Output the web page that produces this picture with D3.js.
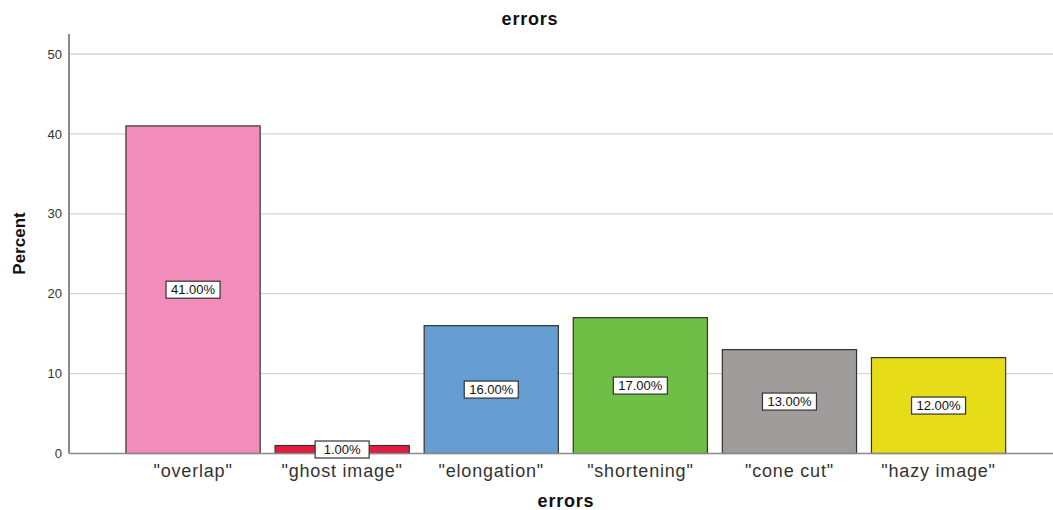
<!DOCTYPE html>
<html>
<head>
<meta charset="utf-8">
<script src="https://cdn.jsdelivr.net/npm/d3@7"></script>
<style>
  body { margin: 0; background: #fff; }
  svg { display: block; font-family: "Liberation Sans", Arial, sans-serif; }
</style>
</head>
<body>
<svg id="chart" width="1053" height="510"></svg>
<script>
// Error categories and their share of cases (percent)
const categories = ['"overlap"', '"ghost image"', '"elongation"', '"shortening"', '"cone cut"', '"hazy image"'];
const percents = [41, 1, 16, 17, 13, 12];
const barColors = ["#f28cba", "#e31b3e", "#659dd3", "#6fbe45", "#a09c9b", "#e6dc18"];
const yTicks = [0, 10, 20, 30, 40, 50];

const svg = d3.select("#chart");
const axisX = 69, plotRight = 1053, plotTop = 34, baseY = 453.5;
const fontFam = "Liberation Sans, Arial, sans-serif";

const x = d3.scaleBand()
  .domain(categories)
  .range([118.5, 1013.1])
  .paddingInner(0.1)
  .paddingOuter(0.05);

const y = d3.scaleLinear().domain([0, 50]).range([baseY, 54]);

// horizontal gridlines
svg.append("g").selectAll("line")
  .data(yTicks.filter(d => d > 0))
  .join("line")
  .attr("x1", axisX).attr("x2", plotRight)
  .attr("y1", d => y(d)).attr("y2", d => y(d))
  .attr("stroke", "#d6d6d6").attr("stroke-width", 1.3);

// bars
const data = categories.map((c, i) => ({ c, v: percents[i], color: barColors[i] }));
svg.append("g").selectAll("rect")
  .data(data)
  .join("rect")
  .attr("x", d => x(d.c))
  .attr("width", x.bandwidth())
  .attr("y", d => y(d.v))
  .attr("height", d => y(0) - y(d.v))
  .attr("fill", d => d.color)
  .attr("stroke", "#333")
  .attr("stroke-width", 1.2);

// y axis
const yAxis = d3.axisLeft(y).tickValues(yTicks).tickSize(0).tickPadding(7);
const gy = svg.append("g").attr("transform", `translate(${axisX},0)`).call(yAxis);
gy.select(".domain").remove();
gy.selectAll("text").attr("font-size", 13).attr("fill", "#333").attr("font-family", fontFam);
svg.append("line")
  .attr("x1", axisX).attr("x2", axisX).attr("y1", plotTop).attr("y2", baseY)
  .attr("stroke", "#8a8a8a").attr("stroke-width", 2);

// x axis baseline and category labels
svg.append("line")
  .attr("x1", axisX).attr("x2", plotRight).attr("y1", baseY).attr("y2", baseY)
  .attr("stroke", "#8a8a8a").attr("stroke-width", 1.6);
const xAxis = d3.axisBottom(x).tickSize(0).tickPadding(11);
const gx = svg.append("g").attr("transform", `translate(0,${baseY})`).call(xAxis);
gx.select(".domain").remove();
gx.selectAll("text").attr("font-size", 18).attr("fill", "#333")
  .attr("letter-spacing", 0.8).attr("font-family", fontFam);

// value labels in boxes at bar mid-height
const lab = svg.append("g").selectAll("g")
  .data(data)
  .join("g")
  .attr("transform", d => `translate(${x(d.c) + x.bandwidth() / 2},${(y(d.v) + y(0)) / 2})`);
lab.append("rect")
  .attr("x", -27).attr("y", -8.5).attr("width", 54).attr("height", 17)
  .attr("fill", "#fff").attr("stroke", "#333").attr("stroke-width", 1.2);
lab.append("text")
  .attr("text-anchor", "middle").attr("dy", "0.36em")
  .attr("font-size", 13).attr("fill", "#111")
  .text(d => d.v.toFixed(2) + "%");

// titles
svg.append("text").attr("x", 530).attr("y", 25).attr("text-anchor", "middle")
  .attr("font-size", 18).attr("font-weight", "bold").attr("letter-spacing", 0.8)
  .attr("fill", "#111").text("errors");
svg.append("text").attr("x", 566).attr("y", 507).attr("text-anchor", "middle")
  .attr("font-size", 18).attr("font-weight", "bold").attr("letter-spacing", 0.8)
  .attr("fill", "#111").text("errors");
svg.append("text").attr("transform", "translate(25,243.5) rotate(-90)").attr("text-anchor", "middle")
  .attr("font-size", 17).attr("font-weight", "bold").attr("fill", "#111").text("Percent");
</script>
</body>
</html>
